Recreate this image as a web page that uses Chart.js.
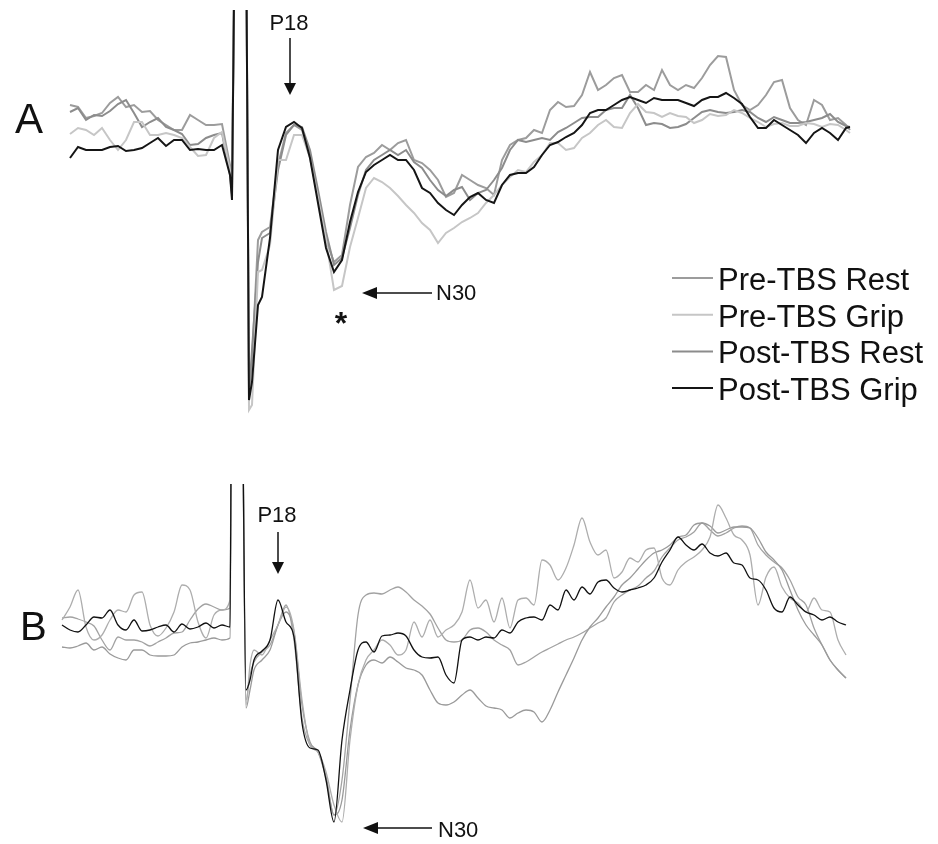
<!DOCTYPE html>
<html>
<head>
<meta charset="utf-8">
<script src="https://cdn.jsdelivr.net/npm/chart.js@4.4.1/dist/chart.umd.min.js"></script>
<style>
  html, body { margin: 0; padding: 0; background: #fff; }
  #wrap { position: relative; width: 938px; height: 844px; }
  canvas { position: absolute; left: 0; }
  #chartA { top: 0; }
  #chartB { top: 430px; }
</style>
</head>
<body>
<div id="wrap">
  <canvas id="chartA" width="938" height="430"></canvas>
  <canvas id="chartB" width="938" height="414"></canvas>
</div>
<script>
// time in ms relative to the stimulus, amplitude in uV
const seriesLabels = ['Pre-TBS Rest', 'Pre-TBS Grip', 'Post-TBS Rest', 'Post-TBS Grip'];

const timeA = [-40,-38,-36,-34,-32,-30,-28,-26,-24,-22,-20,-18,-16,-14,-12,-10,-8,-6,-4,-2,0,
  0.5,1.25,4,4.75,5.5,
  7,8,10,12,14,16,18,20,22,24,26,28,30,32,34,36,38,40,42,44,46,48,50,52,54,56,58,60,62,64,66,68,70,
  72,74,76,78,80,82,84,86,88,90,92,94,96,98,100,102,104,106,108,110,112,114,116,118,120,122,124,126,
  128,130,132,134,136,138,140,142,144,146,148,150,152,154,155];

const preRestA = [3.5,3.3,2.2,2.4,2.7,3.7,4.3,3.3,3.5,2.8,2.9,2.0,1.5,1.0,1.0,2.5,2.0,1.5,1.5,1.6,-2.5,
  -4.5,24,24,-25.0,-22.0,
  -10.0,-9.2,-8.7,-2.5,0.7,1.5,1.0,-1.5,-5.5,-10.0,-12.2,-11.5,-6.5,-2.7,-1.7,-1.3,-0.5,-1.0,-0.3,0,
  -2.0,-2.3,-3.0,-4.0,-5.7,-5.3,-3.5,-4.0,-4.5,-4.8,-5.5,-2.0,-0.5,0,0.2,1.0,0.7,3.0,3.8,3.3,3.4,4.5,
  6.8,5.0,5.5,6.2,6.5,4.8,4.8,5.5,5.0,7.0,5.5,5.0,5.5,5.2,6.2,7.5,8.4,8.3,5.0,3.5,3.0,3.5,4.5,5.8,6.0,
  3.2,2.0,1.5,4.0,3.5,2.0,2.2,1.5,1.0];

const preGripA = [0.6,1.2,1.0,0.5,1.2,0,-1.0,0,1.8,1.8,0.5,0.5,0.7,0.5,0.2,-0.7,-1.6,-1.5,0.2,0.8,-3.0,
  -5.0,24,24,-27.0,-26.5,
  -13.2,-13.0,-10.5,-2.0,-2.0,0.5,0.5,-1.8,-5.8,-10.0,-15.0,-14.6,-10.7,-7.8,-4.8,-3.8,-4.2,-4.8,-5.6,
  -6.5,-7.3,-8.3,-9.0,-10.3,-9.3,-8.8,-8.2,-7.8,-7.3,-6.3,-5.5,-4.5,-3.7,-3.0,-3.2,-2.2,-1.5,-0.3,-0.3,
  -1.0,-0.8,0.2,0.7,1.5,2.0,1.3,1.2,2.7,3.6,2.8,2.7,2.3,2.7,2.4,2.3,1.7,2.0,2.6,2.4,2.5,3.0,2.7,2.2,1.8,
  1.3,1.6,1.7,1.4,1.4,1.7,1.6,1.3,1.6,1.5,1.0,0.7];

const postRestA = [2.8,3.2,2.0,2.5,2.4,2.9,3.6,4.0,2.7,1.3,1.8,2.2,1.3,1.0,0.6,-0.5,-0.4,0.2,0.5,0.7,-3.5,
  -5.5,24,24,-25.5,-21.0,
  -12.2,-9.8,-9.3,-3.0,0.5,1.5,1.3,-1.0,-5.0,-9.2,-12.5,-11.8,-8.8,-5.5,-3.0,-2.0,-1.5,-1.0,-1.5,-1.0,
  -2.2,-2.8,-4.0,-5.0,-5.6,-5.0,-4.7,-6.0,-5.3,-5.0,-4.0,-2.8,-1.0,0,-0.2,0,0.2,0,0.8,1.2,1.7,2.2,2.3,
  2.3,3.0,3.2,3.2,4.5,3.2,1.5,1.7,1.6,1.2,1.3,1.6,2.2,2.8,3.0,2.8,2.7,2.8,3.0,2.8,2.2,1.8,2.3,2.0,1.7,
  1.7,1.8,2.0,2.2,2.6,1.8,1.4,1.3];

const postGripA = [-1.8,-0.7,-1.0,-1.0,-1.0,-0.7,-0.6,-1.1,-1.0,-0.8,-0.3,0.2,-0.6,0,0,-1.0,-0.9,-1.0,-1.0,-0.5,-3.5,
  -6.0,24,24,-26.0,-24.2,
  -16.5,-15.7,-9.8,-1.0,1.3,1.8,1.2,-1.8,-6.3,-10.8,-13.2,-12.0,-8.2,-5.2,-3.2,-2.5,-2.0,-1.5,-2.0,-2.0,
  -3.0,-4.8,-5.3,-6.3,-7.0,-7.5,-6.5,-5.7,-5.3,-6.0,-6.3,-4.5,-3.5,-3.3,-3.3,-2.7,-1.5,-0.5,-0.2,0.3,
  0.7,1.5,2.7,3.0,3.0,3.5,4.0,4.3,4.0,3.7,4.2,4.0,4.0,4.0,3.7,3.4,4.0,4.3,4.3,4.7,4.2,3.6,2.3,1.2,1.2,
  2.0,1.5,1.0,0.5,-0.3,0.7,1.2,0.7,0,1.2,1.3];

const timeB = [-42,-40,-38,-36,-34,-32,-30,-28,-26,-24,-22,-20,-18,-16,-14,-12,-10,-8,-6,-4,-2,0,
  0.5,2.75,4,5,
  6,8,10,12,14,16,18,20,22,24,26,28,30,32,34,36,38,40,42,44,46,48,50,52,54,56,58,60,62,64,66,68,70,
  72,74,76,78,80,82,84,86,88,90,92,94,96,98,100,102,104,106,108,110,112,114,116,118,120,122,124,126,
  128,130,132,134,136,138,140,142,144,146,148,150,152,154];

const preRestB = [0.2,0.3,0.1,-0.2,-0.6,-2.0,-3.0,-1.7,-2.0,-2.0,-2.2,-2.6,-2.2,-1.8,-1.3,-1.2,0,1.1,1.6,1.3,1.0,1.2,
  32,32,-8.0,-5.5,
  -4.2,-3.2,-2.5,-0.5,1.5,-2.0,-9.8,-12.5,-13.2,-15.6,-19.5,-16.0,-8.0,0.5,2.5,2.7,2.6,3.0,3.3,2.8,2.0,
  1.4,0.6,-0.8,-2.0,-2.2,-2.0,-1.0,-0.8,-1.2,-2.0,-2.5,-3.0,-4.5,-4.2,-3.7,-3.2,-2.8,-2.4,-2.0,-1.7,
  -1.3,-0.8,-0.3,0.2,1.8,2.5,3.0,3.4,4.2,4.9,6.3,7.2,8.0,8.3,8.8,9.7,9.0,8.4,8.7,9.2,9.4,9.2,7.5,6.5,
  5.8,5.2,4.0,2.3,1.5,-0.8,-2.5,-4.0,-5.0,-5.8];

const preGripB = [0,1.3,3.0,-0.7,-2.0,-1.5,0,1.0,0.8,2.5,2.8,-0.5,-1.6,-0.8,0.8,3.5,3.0,-0.2,-1.8,0.5,1.0,2.0,
  32,32,-8.5,-4.5,
  -3.0,-3.5,-2.0,-0.5,1.3,-1.0,-8.0,-12.5,-13.2,-15.2,-18.5,-20.2,-12.0,-6.5,-4.0,-3.0,-2.0,-2.5,-3.5,
  -3.0,-0.2,-1.7,0,-1.7,-1.0,-0.5,0.8,4.0,1.2,2.0,-0.2,2.2,-0.8,2.0,2.2,1.5,6.0,5.5,4.0,5.2,7.5,10.2,
  7.8,6.5,7.0,4.2,4.8,6.2,5.8,7.0,7.2,4.2,3.5,5.0,5.8,6.3,7.0,8.3,11.5,10.2,8.5,8.0,6.5,1.5,4.3,5.3,
  3.3,2.2,1.7,0.8,2.2,1.0,0.8,-2.0,-3.5];

const postRestB = [-2.7,-2.8,-2.6,-2.3,-3.0,-2.7,-3.4,-3.8,-4.0,-3.0,-3.0,-3.5,-3.6,-3.6,-3.5,-2.7,-2.3,-2.2,-2.0,-1.8,-2.0,-1.8,
  32,32,-8.8,-7.0,
  -5.0,-4.0,-3.0,-0.5,0.8,-1.2,-8.5,-12.2,-13.2,-15.8,-19.5,-18.0,-11.0,-6.5,-4.5,-4.0,-4.3,-3.7,-4.2,
  -4.8,-5.0,-5.5,-7.0,-8.3,-8.5,-8.2,-7.5,-7.0,-7.8,-8.6,-8.8,-9.0,-9.8,-9.3,-9.0,-9.2,-10.2,-9.0,-7.2,
  -5.5,-3.8,-2.0,-0.7,0.2,1.3,2.3,3.5,4.2,5.1,6.0,6.7,7.0,7.5,8.3,8.5,9.5,9.7,9.4,8.7,9.0,9.3,9.3,9.2,
  8.2,6.8,6.0,5.0,3.0,1.0,-0.5,-1.5,-2.5,-4.0,-5.0,-5.8];

const postGripB = [-0.5,-1.0,-1.2,-0.5,0.3,0.2,1.0,-0.5,-1.0,0,-1.1,-1.0,-0.7,-0.5,-1.2,-0.4,-0.9,-0.7,-0.3,-0.8,-0.5,-0.7,
  32,32,-7.0,-6.0,
  -4.0,-3.1,-2.0,2.0,-0.2,-1.7,-10.3,-12.8,-13.0,-16.0,-20.2,-12.0,-7.0,-3.0,-2.2,-3.2,-1.6,-1.5,-1.3,
  -1.6,-3.0,-3.7,-3.8,-3.7,-5.5,-6.3,-2.0,-1.7,-2.0,-1.7,-1.8,-1.0,-1.3,-0.2,0.2,0.3,0,1.5,1.0,3.0,2.0,
  3.3,2.6,3.8,4.0,3.2,2.8,3.0,3.2,3.5,4.2,5.8,7.0,8.3,7.5,7.0,7.6,6.7,6.4,6.7,5.7,5.5,4.2,4.0,3.0,1.2,
  0.8,2.3,1.5,0.8,0.5,0,0.3,-0.2,-0.5];

[[timeA, preRestA, preGripA, postRestA, postGripA], [timeB, preRestB, preGripB, postRestB, postGripB]].forEach(function (set) {
  set.slice(1).forEach(function (s, i) {
    if (s.length !== set[0].length) throw new Error('length mismatch ' + i + ': ' + s.length + ' vs ' + set[0].length);
  });
});

const FONT = '"Liberation Sans", Arial, sans-serif';

function arrow(ctx, x1, y1, x2, y2, head) {
  const ang = Math.atan2(y2 - y1, x2 - x1);
  const bx = x2 - head * Math.cos(ang), by = y2 - head * Math.sin(ang);
  ctx.beginPath();
  ctx.moveTo(x1, y1);
  ctx.lineTo(bx, by);
  ctx.stroke();
  ctx.beginPath();
  ctx.moveTo(x2, y2);
  ctx.lineTo(bx + 6 * Math.sin(ang), by - 6 * Math.cos(ang));
  ctx.lineTo(bx - 6 * Math.sin(ang), by + 6 * Math.cos(ang));
  ctx.closePath();
  ctx.fill();
}

// panel letter, peak labels, arrows and (panel A) the legend
const panelMarks = {
  id: 'panelMarks',
  afterDraw(chart, args, opts) {
    const ctx = chart.ctx;
    const X = t => chart.scales.x.getPixelForValue(t);
    const Y = v => chart.scales.y.getPixelForValue(v);
    ctx.save();
    ctx.fillStyle = '#111';
    ctx.strokeStyle = '#111';
    ctx.lineWidth = 1.5;
    ctx.textBaseline = 'alphabetic';

    ctx.textAlign = 'left';
    ctx.font = opts.letterSize + 'px ' + FONT;
    ctx.fillText(opts.letter, X(opts.letterAt[0]), Y(opts.letterAt[1]));

    ctx.font = '22px ' + FONT;
    ctx.textAlign = 'center';
    ctx.fillText('P18', X(opts.p18.text[0]), Y(opts.p18.text[1]));
    arrow(ctx, X(opts.p18.t), Y(opts.p18.from), X(opts.p18.t), Y(opts.p18.to), 12);

    arrow(ctx, X(opts.n30.from), Y(opts.n30.v), X(opts.n30.to), Y(opts.n30.v), 15);
    ctx.textAlign = 'left';
    ctx.fillText('N30', X(opts.n30.text[0]), Y(opts.n30.text[1]));

    if (opts.star) {
      ctx.font = 'bold 32px ' + FONT;
      ctx.textAlign = 'center';
      ctx.fillText('*', X(opts.star[0]), Y(opts.star[1]));
    }

    if (opts.legend) {
      const lg = opts.legend;
      ctx.font = '31px ' + FONT;
      ctx.textAlign = 'left';
      chart.data.datasets.forEach(function (ds, i) {
        const y = Y(lg.v) + i * lg.rowGap;
        ctx.strokeStyle = ds.legendColor;
        ctx.lineWidth = 2;
        ctx.beginPath();
        ctx.moveTo(X(lg.t0), y);
        ctx.lineTo(X(lg.t1), y);
        ctx.stroke();
        ctx.fillStyle = '#111';
        ctx.fillText(ds.label, X(lg.tText), y + 12);
      });
    }
    ctx.restore();
  }
};

function makeDatasets(time, lists, colors, width, smooth) {
  const order = [3, 1, 2, 0];
  return lists.map(function (vals, i) {
    return {
      label: seriesLabels[i],
      data: time.map((t, k) => ({ x: t, y: vals[k] })),
      borderColor: colors[i],
      legendColor: colors[i],
      borderWidth: width,
      pointRadius: 0,
      fill: false,
      tension: smooth ? 0.4 : 0,
      cubicInterpolationMode: smooth ? 'monotone' : 'default',
      order: order[i]
    };
  });
}

function makeOptions(yMin, yMax, padTop, padBottom, marks) {
  return {
    responsive: false,
    animation: false,
    devicePixelRatio: 1,
    layout: { padding: { left: 60, right: 78, top: padTop, bottom: padBottom } },
    scales: {
      x: { type: 'linear', min: -42.5, max: 157.5, display: false },
      y: { type: 'linear', min: yMin, max: yMax, display: false }
    },
    plugins: {
      legend: { display: false },
      tooltip: { enabled: false },
      panelMarks: marks
    }
  };
}

new Chart(document.getElementById('chartA'), {
  type: 'line',
  data: {
    datasets: makeDatasets(timeA, [preRestA, preGripA, postRestA, postGripA],
      ['#9c9c9c', '#c6c6c6', '#8c8c8c', '#151515'], 2, false)
  },
  options: makeOptions(-28, 13, 10, 10, {
    letter: 'A', letterSize: 42, letterAt: [-53.75, 0.7],
    p18: { t: 15, from: 10.2, to: 4.5, text: [14.75, 11.0] },
    n30: { from: 50.5, to: 33, v: -15.3, text: [51.5, -16.0] },
    star: [27.75, -19.4],
    legend: { t0: 110.5, t1: 120.75, tText: 122, v: -13.8, rowGap: 36.7 }
  }),
  plugins: [panelMarks]
});

new Chart(document.getElementById('chartB'), {
  type: 'line',
  data: {
    datasets: makeDatasets(timeB, [preRestB, preGripB, postRestB, postGripB],
      ['#a2a2a2', '#adadad', '#9a9a9a', '#111111'], 1.3, true)
  },
  options: makeOptions(-22.4, 13.6, 54, 0, {
    letter: 'B', letterSize: 40, letterAt: [-52.5, -2.0],
    p18: { t: 12, from: 8.8, to: 4.6, text: [11.75, 9.8] },
    n30: { from: 50.5, to: 33.25, v: -20.8, text: [52, -21.7] }
  }),
  plugins: [panelMarks]
});
</script>
</body>
</html>
